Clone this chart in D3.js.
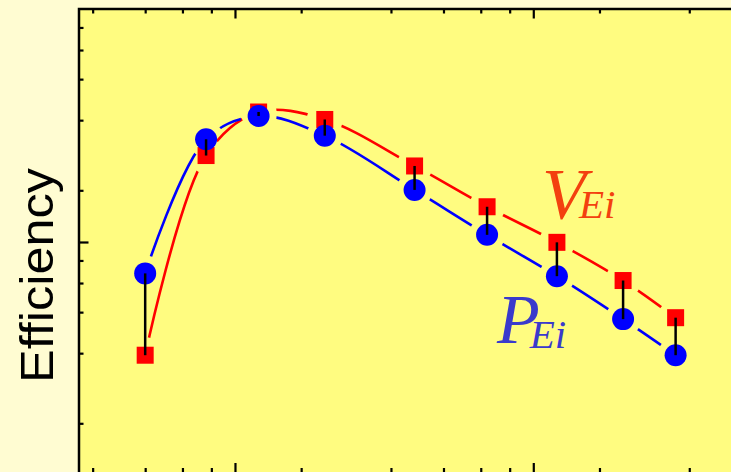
<!DOCTYPE html>
<html><head><meta charset="utf-8">
<script src="https://cdn.jsdelivr.net/npm/d3@7"></script>
<style>html,body{margin:0;padding:0;background:#fffcd2;} svg{display:block}</style>
</head><body><svg id="c" width="731" height="472"></svg>
<script>
// ---- data ----
const xValues = [1.5, 2.4, 3.6, 6, 12, 21, 36, 60, 90];
const vEi = [0.98, 7.05, 10.84, 10.07, 6.36, 4.25, 2.99, 2.05, 1.42];
const pEi = [2.20, 8.28, 10.42, 8.58, 5.02, 3.22, 2.14, 1.40, 0.98];
const xTicks = [1, 1.5, 2, 2.5, 3, 5, 10, 15, 20, 25, 30, 50, 100];
const xMajor = [3, 30];
const yTicks = [0.5, 1, 1.5, 2, 2.5, 3, 5, 10, 15, 20, 25];
const yMajor = [3];
const yLabel = "Efficiency";

(function () {
const svg = d3.select("#c");
const W = 731, H = 472;
svg.append("rect").attr("width", W).attr("height", H).attr("fill", "#fffcd2");

const pL = 79, pT = 9, pR = 741.8, pB = 475;
const x = d3.scaleLog().domain([0.9, 150]).range([pL, pR]);
const y = d3.scaleLog().domain([0.3, 30]).range([pB, pT]);

svg.append("rect").attr("x", pL).attr("y", pT).attr("width", pR - pL).attr("height", pB - pT)
  .attr("fill", "#fffc80");

function addAxis(gen, tr, vals, size) {
  const g = svg.append("g").attr("transform", tr)
    .call(gen.tickValues(vals).tickSize(size).tickFormat(""));
  g.select(".domain").remove();
  g.selectAll(".tick line").attr("stroke", "#000").attr("stroke-width", 2.2);
}
const xMinor = xTicks.filter(v => !xMajor.includes(v));
const yMinor = yTicks.filter(v => !yMajor.includes(v));
addAxis(d3.axisTop(x), `translate(0,${pT})`, xMinor, -4.5);
addAxis(d3.axisTop(x), `translate(0,${pT})`, xMajor, -9.5);
addAxis(d3.axisBottom(x), `translate(0,${pB})`, xMinor, -7);
addAxis(d3.axisBottom(x), `translate(0,${pB})`, xMajor, -12);
addAxis(d3.axisLeft(y), `translate(${pL},0)`, yMinor, -4.5);
addAxis(d3.axisLeft(y), `translate(${pL},0)`, yMajor, -9.5);

svg.append("rect").attr("x", pL).attr("y", pT).attr("width", pR - pL).attr("height", pB - pT)
  .attr("fill", "none").attr("stroke", "#000").attr("stroke-width", 2.5);

const defs = svg.append("defs");
function makeMask(id, vals, r) {
  const m = defs.append("mask").attr("id", id).attr("maskUnits", "userSpaceOnUse")
    .attr("x", 0).attr("y", 0).attr("width", W).attr("height", H);
  m.append("rect").attr("width", W).attr("height", H).attr("fill", "#fff");
  m.selectAll("circle").data(vals).join("circle")
    .attr("cx", (d, i) => x(xValues[i])).attr("cy", d => y(d)).attr("r", r).attr("fill", "#000");
}
makeMask("mv", vEi, 18);
makeMask("mp", pEi, 18);

const line = d3.line().x((d, i) => x(xValues[i])).y(d => y(d)).curve(d3.curveCatmullRom.alpha(0.5));
svg.append("path").attr("d", line(vEi)).attr("fill", "none").attr("stroke", "#ff0000")
  .attr("stroke-width", 2.6).attr("mask", "url(#mv)");
svg.append("path").attr("d", line(pEi)).attr("fill", "none").attr("stroke", "#0000ff")
  .attr("stroke-width", 2.6).attr("mask", "url(#mp)");

const sq = 17;
svg.selectAll("rect.sq").data(vEi).join("rect").attr("class", "sq")
  .attr("x", (d, i) => x(xValues[i]) - sq / 2).attr("y", d => y(d) - sq / 2)
  .attr("width", sq).attr("height", sq).attr("fill", "#ff0000");
svg.selectAll("circle.pt").data(pEi).join("circle").attr("class", "pt")
  .attr("cx", (d, i) => x(xValues[i])).attr("cy", d => y(d)).attr("r", 11).attr("fill", "#0000ff");
svg.selectAll("line.bar").data(xValues).join("line").attr("class", "bar")
  .attr("x1", d => x(d)).attr("x2", d => x(d))
  .attr("y1", (d, i) => y(pEi[i])).attr("y2", (d, i) => y(vEi[i]))
  .attr("stroke", "#000").attr("stroke-width", 2.5);

const tv = svg.append("text").attr("x", 542).attr("y", 218)
  .attr("font-family", "'Liberation Serif', 'DejaVu Serif', serif").attr("font-style", "italic")
  .attr("fill", "#f3400f");
tv.append("tspan").attr("font-size", 72).text("V");
tv.append("tspan").attr("font-size", 41).attr("dx", -7).text("Ei");

const tp = svg.append("text").attr("x", 497).attr("y", 343)
  .attr("font-family", "'Liberation Serif', 'DejaVu Serif', serif").attr("font-style", "italic")
  .attr("fill", "#3a3acc");
tp.append("tspan").attr("font-size", 70).text("P");
tp.append("tspan").attr("font-size", 41).attr("dx", -10).attr("dy", 5).text("Ei");

svg.append("text").attr("transform", "translate(53,275.5) rotate(-90)")
  .attr("text-anchor", "middle").attr("font-family", "'Liberation Sans', Arial, sans-serif")
  .attr("font-size", 46).attr("textLength", 215).attr("lengthAdjust", "spacingAndGlyphs")
  .attr("fill", "#000").text(yLabel);
})();
</script></body></html>
